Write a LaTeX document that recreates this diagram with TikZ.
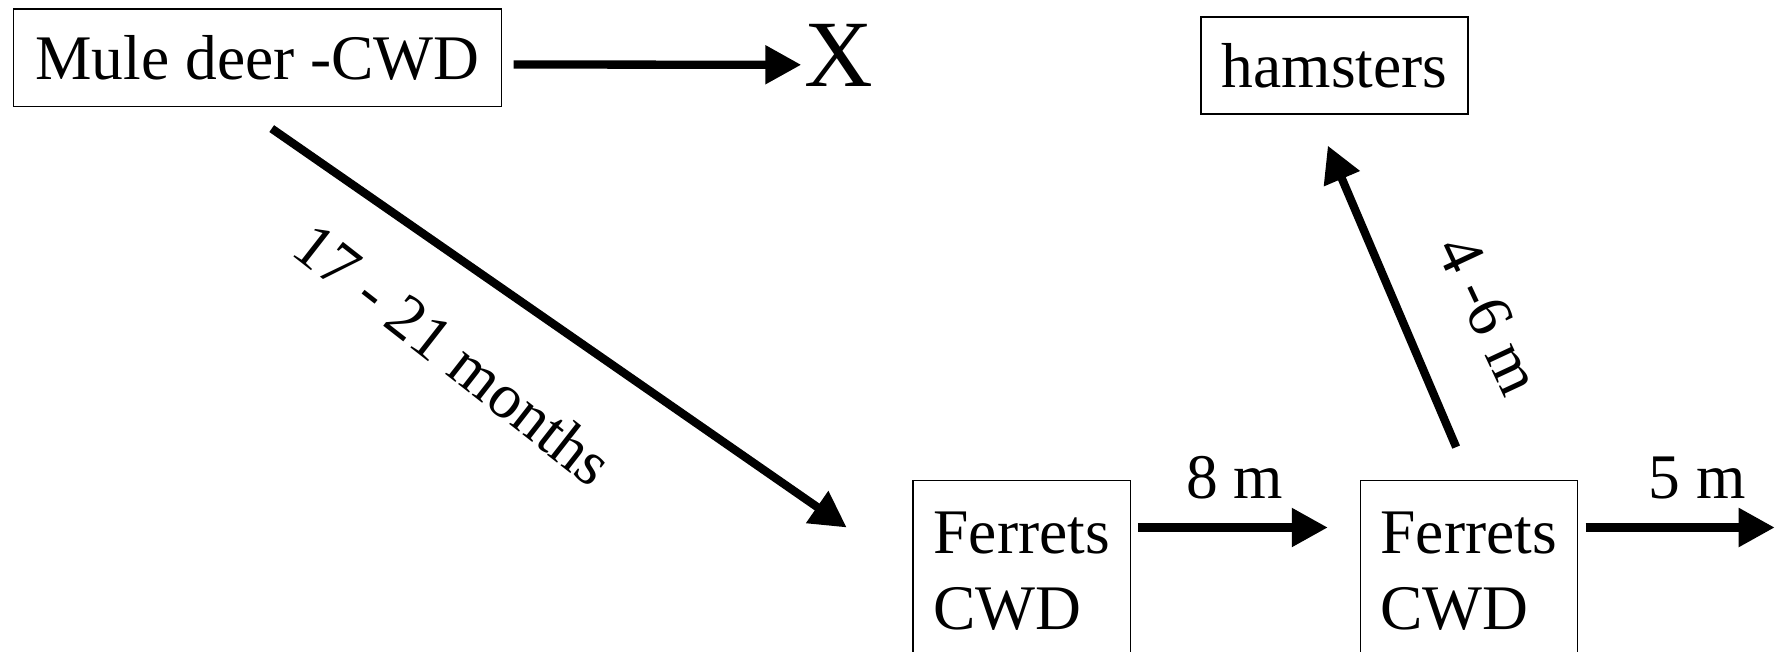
\documentclass[tikz,border=0pt]{standalone}
\usepackage{fontspec}
\setmainfont{Liberation Serif}
\usetikzlibrary{arrows.meta}
\tikzset{
  big/.style={font=\fontsize{63.5}{76}\selectfont},
  box/.style={big, draw, line width=1.4pt, inner sep=0pt},
  colbox/.style={box, anchor=north west, inner xsep=20.4pt, inner ysep=0pt,
    text height=72.4pt, text depth=260pt},
  lbl/.style={big, inner sep=0pt},
  arr/.style={line width=8.3pt, -{Triangle[length=36pt,width=37pt]}},
}
\begin{document}
\begin{tikzpicture}[x=1pt,y=-1pt]
\useasboundingbox (0,0) rectangle (1775,651);
\clip (0,0) rectangle (1775,651);

% boxes
\node[box, minimum width=488pt, minimum height=97.4pt] (mule) at (257.5,57.7) {Mule deer -CWD};
\node[box, minimum width=267pt, minimum height=97pt] (ham) at (1334.6,65.6) {hamsters};
\node[colbox] (f1) at (912.4,480)
  {\makebox[176.5pt][l]{\begin{tabular}[t]{@{}l@{}}Ferrets\\CWD\end{tabular}}};
\node[colbox] (f2) at (1359.5,480)
  {\makebox[176.5pt][l]{\begin{tabular}[t]{@{}l@{}}Ferrets\\CWD\end{tabular}}};

% end mark of the dead-end branch
\node[inner sep=0pt, anchor=base, font=\fontsize{95}{110}\selectfont] (xmark) at (838.5,86) {X};

% labels
\node[lbl, rotate=-38] (l1) at (454,354) {17 - 21 months};
\node[lbl, rotate=-65] (l2) at (1489,315) {4 -6 m};
\node[lbl, anchor=base] (l3) at (1234.5,498) {8 m};
\node[lbl, anchor=base] (l4) at (1697.4,498) {5 m};

% connectors
\draw[arr] ([xshift=11.3pt,yshift=-6.8pt]mule.east) -- ([xshift=-2.7pt,yshift=-9.9pt]xmark.west);
\draw[arr] ([xshift=14.2pt,yshift=-21.5pt]mule.south) -- ([xshift=-65.7pt,yshift=-47.5pt]f1.north west);
\draw[arr] ([xshift=6.8pt,yshift=-47.5pt]f1.north east) -- ([xshift=-31.7pt,yshift=-47.5pt]f2.north west);
\draw[arr] ([xshift=7.3pt,yshift=-47.5pt]f2.north east) -- ([xshift=196.5pt,yshift=-47.5pt]f2.north east);
\draw[arr] ([xshift=-12.7pt,yshift=32.9pt]f2.north) -- ([xshift=-6.8pt,yshift=-30.8pt]ham.south);
\end{tikzpicture}
\end{document}
